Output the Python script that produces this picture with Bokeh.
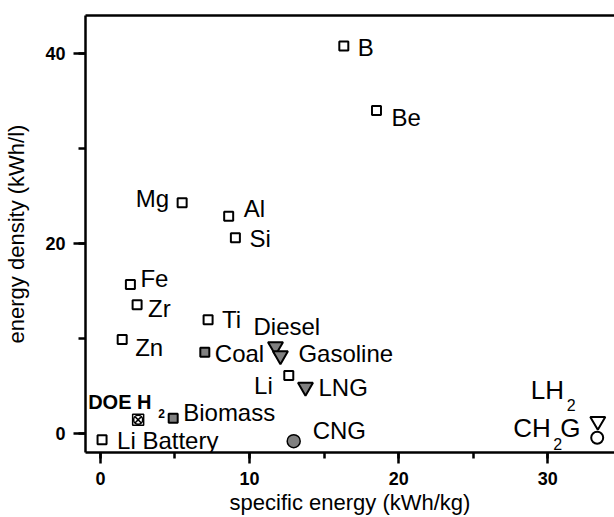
from bokeh.plotting import figure
from bokeh.models import ColumnDataSource, LinearAxis, SingleIntervalTicker, FixedTicker, Range1d
from bokeh.embed import file_html
from bokeh.resources import INLINE
from bokeh.core.properties import value

# ---------------- data ----------------
metal_names = ["B", "Be", "Mg", "Al", "Si", "Fe", "Zr", "Zn", "Ti", "Li", "Li Battery"]
metal_x = [16.32, 18.51, 5.48, 8.60, 9.05, 2.01, 2.46, 1.46, 7.22, 12.63, 0.11]
metal_y = [40.76, 34.00, 24.29, 22.88, 20.61, 15.70, 13.56, 9.92, 11.99, 6.13, -0.63]

solid_names = ["Coal", "Biomass"]
solid_x = [7.00, 4.88]
solid_y = [8.58, 1.64]

liquid_names = ["Diesel", "Gasoline", "LNG"]
liquid_x = [11.74, 12.07, 13.75]
liquid_y = [9.18, 8.23, 4.90]

gas_names = ["CNG"]
gas_x = [12.96]
gas_y = [-0.78]

hydrogen_names = ["DOE H2", "LH2", "CH2G"]
hydrogen_x = [2.53, 33.35, 33.31]
hydrogen_y = [1.47, 1.32, -0.42]

x_ticks_interval = 10
y_ticks_interval = 20
x_label = "specific energy (kWh/kg)"
y_label = "energy density (kWh/l)"

# ---------------- label placement (pixels, relative to marker) ----------------
label_offsets = {
    "B": (14, 1, "left"), "Be": (15, 7, "left"), "Mg": (-13, -4, "right"),
    "Al": (15, -8, "left"), "Si": (14, 1, "left"), "Fe": (10, -6, "left"),
    "Zr": (11, 4, "left"), "Zn": (13, 8, "left"), "Ti": (14, 0, "left"),
    "Li": (-16, 10, "right"), "Li Battery": (15, 1, "left"),
    "Coal": (10, 1, "left"), "Biomass": (10, -6, "left"),
    "Diesel": (-22, -20, "left"), "Gasoline": (18, -2, "left"),
    "LNG": (13, 0, "left"), "CNG": (19, -11, "left"),
}
# pieces of the subscripted labels: (anchor, text, dx, dy, size, style)
sub_pieces = [
    ("DOE H2", "DOE H", -50, -18, "20px", "bold"),
    ("DOE H2", "2", 20, -6, "12px", "bold"),
    ("LH2", "LH", -67, -31, "26px", "normal"),
    ("LH2", "2", -31, -16, "16px", "normal"),
    ("CH2G", "CH", -84, -10, "26px", "normal"),
    ("CH2G", "2", -44, 6, "16px", "normal"),
    ("CH2G", "G", -37, -10, "26px", "normal"),
]

FONT = "Liberation Sans"
GRAY = "#808080"

p = figure(width=614, height=517,
           x_range=Range1d(-1.0, 34.47), y_range=Range1d(-1.97, 43.98),
           output_backend="svg", toolbar_location=None,
           min_border_left=85, min_border_right=0, min_border_top=15, min_border_bottom=65)
p.grid.visible = False
p.outline_line_color = None
p.background_fill_color = "white"
p.border_fill_color = "white"

for ax, interval, tout, mout in ((p.xaxis[0], x_ticks_interval, 11, 6),
                                 (p.yaxis[0], y_ticks_interval, 12, 7)):
    ax.ticker = SingleIntervalTicker(interval=interval, num_minor_ticks=2)
    ax.axis_line_width = 2.5
    ax.axis_line_color = "black"
    ax.major_tick_line_width = 2.5
    ax.minor_tick_line_width = 2.5
    ax.major_tick_line_color = "black"
    ax.minor_tick_line_color = "black"
    ax.major_tick_in = 0
    ax.minor_tick_in = 0
    ax.major_tick_out = tout
    ax.minor_tick_out = mout
    ax.major_label_text_font = FONT
    ax.major_label_text_font_size = "18px"
    ax.major_label_text_font_style = "bold"
    ax.major_label_text_color = "black"
    ax.axis_label_text_font = FONT
    ax.axis_label_text_font_size = "22px"
    ax.axis_label_text_font_style = "normal"
    ax.axis_label_text_color = "black"

p.xaxis[0].axis_label = x_label
p.yaxis[0].axis_label = y_label
p.xaxis[0].major_label_standoff = 8
p.yaxis[0].major_label_standoff = 8
p.xaxis[0].axis_label_standoff = 2
p.yaxis[0].axis_label_standoff = 13

top = LinearAxis(ticker=FixedTicker(ticks=[]),
                 major_tick_line_color=None, minor_tick_line_color=None,
                 axis_line_width=2.5, axis_line_color="black")
p.add_layout(top, "above")

# ---------------- markers ----------------
metal_src = ColumnDataSource(dict(x=metal_x, y=metal_y, name=metal_names))
p.scatter("x", "y", source=metal_src, marker="square", size=9,
          fill_color="white", line_color="black", line_width=2)

solid_src = ColumnDataSource(dict(x=solid_x, y=solid_y, name=solid_names))
p.scatter("x", "y", source=solid_src, marker="square", size=9,
          fill_color=GRAY, line_color="black", line_width=2)

liquid_src = ColumnDataSource(dict(x=liquid_x, y=liquid_y, name=liquid_names))
p.scatter("x", "y", source=liquid_src, marker="inverted_triangle", size=15,
          fill_color=GRAY, line_color="black", line_width=2)

gas_src = ColumnDataSource(dict(x=gas_x, y=gas_y, name=gas_names))
p.scatter("x", "y", source=gas_src, marker="circle", size=13,
          fill_color=GRAY, line_color="black", line_width=1.5)

# hydrogen: DOE target, liquid H2, compressed H2 gas
p.scatter([hydrogen_x[0]], [hydrogen_y[0]], marker="square", size=11,
          fill_color="white", line_color="black", line_width=1.5)
p.scatter([hydrogen_x[0]], [hydrogen_y[0]], marker="circle_x", size=9,
          fill_color=None, line_color="black", line_width=1.5)
p.scatter([hydrogen_x[1]], [hydrogen_y[1]], marker="inverted_triangle", size=15,
          fill_color="white", line_color="black", line_width=2)
p.scatter([hydrogen_x[2]], [hydrogen_y[2]], marker="circle", size=12,
          fill_color="white", line_color="black", line_width=2)

# ---------------- labels ----------------
all_names = metal_names + solid_names + liquid_names + gas_names + hydrogen_names
all_x = dict(zip(all_names, metal_x + solid_x + liquid_x + gas_x + hydrogen_x))
all_y = dict(zip(all_names, metal_y + solid_y + liquid_y + gas_y + hydrogen_y))

for align in ("left", "right"):
    names = [n for n, o in label_offsets.items() if o[2] == align]
    src = ColumnDataSource(dict(
        x=[all_x[n] for n in names], y=[all_y[n] for n in names], text=names,
        dx=[label_offsets[n][0] for n in names], dy=[label_offsets[n][1] for n in names]))
    p.text("x", "y", text="text", source=src, x_offset="dx", y_offset="dy",
           text_align=align, text_baseline="middle", text_font=value(FONT),
           text_font_size="24px", text_color="black")

for anchor, txt, dx, dy, size, style in sub_pieces:
    p.text([all_x[anchor]], [all_y[anchor]], text=[txt], x_offset=dx, y_offset=dy,
           text_align="left", text_baseline="middle", text_font=value(FONT),
           text_font_size=size, text_font_style=style, text_color="black")

open("out.html", "w").write(file_html(p, INLINE))
